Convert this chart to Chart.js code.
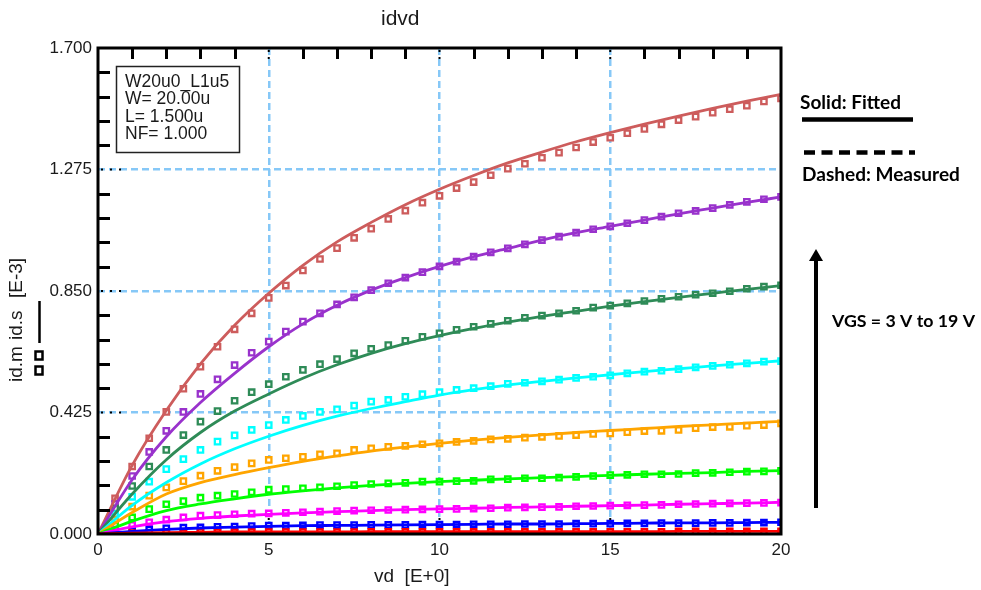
<!DOCTYPE html>
<html>
<head>
<meta charset="utf-8">
<title>idvd</title>
<script src="https://cdn.jsdelivr.net/npm/chart.js@4.4.1/dist/chart.umd.min.js"></script>
<style>
  html, body { margin: 0; padding: 0; background: #fff; }
  #wrap { width: 981px; height: 590px; position: relative; }
</style>
</head>
<body>
<div id="wrap"><canvas id="idvdChart"></canvas></div>
<script>
// drain voltage (V): measured every 0.5 V, fitted curve every 1 V
const vdMeasured = [0, 0.5, 1, 1.5, 2, 2.5, 3, 3.5, 4, 4.5, 5, 5.5, 6, 6.5, 7, 7.5, 8, 8.5, 9, 9.5, 10,
  10.5, 11, 11.5, 12, 12.5, 13, 13.5, 14, 14.5, 15, 15.5, 16, 16.5, 17, 17.5, 18, 18.5, 19, 19.5, 20];
const vdFitted = [0, 1, 2, 3, 4, 5, 6, 7, 8, 9, 10, 11, 12, 13, 14, 15, 16, 17, 18, 19, 20];

const xTicks = [0, 5, 10, 15, 20];
const yTicks = [0, 0.425, 0.85, 1.275, 1.7];

// drain current [E-3 A], one array per VGS
const meas3 = [0, 0.002, 0.003, 0.004, 0.005, 0.005, 0.006, 0.006, 0.006, 0.007, 0.007, 0.007, 0.007, 0.007, 0.007, 0.007,
  0.008, 0.008, 0.008, 0.008, 0.008, 0.008, 0.008, 0.008, 0.008, 0.008, 0.008, 0.008, 0.008, 0.008, 0.008, 0.008, 0.008, 0.008,
  0.009, 0.009, 0.009, 0.009, 0.009, 0.009, 0.009];
const meas5 = [0, 0.005, 0.010, 0.015, 0.020, 0.022, 0.023, 0.025, 0.026, 0.028, 0.029, 0.029, 0.030, 0.031, 0.031, 0.031,
  0.032, 0.032, 0.032, 0.033, 0.033, 0.033, 0.034, 0.034, 0.034, 0.035, 0.035, 0.035, 0.036, 0.036, 0.036, 0.037, 0.037,
  0.038, 0.038, 0.038, 0.039, 0.039, 0.040, 0.040, 0.041];
const meas7 = [0, 0.015, 0.031, 0.041, 0.050, 0.058, 0.064, 0.066, 0.069, 0.071, 0.072, 0.074, 0.076, 0.078, 0.080, 0.082,
  0.083, 0.084, 0.085, 0.086, 0.087, 0.088, 0.089, 0.090, 0.092, 0.093, 0.094, 0.095, 0.097, 0.098, 0.099, 0.100, 0.101,
  0.102, 0.104, 0.105, 0.106, 0.107, 0.108, 0.109, 0.110];
const meas9 = [0, 0.030, 0.058, 0.087, 0.104, 0.115, 0.127, 0.134, 0.140, 0.146, 0.155, 0.157, 0.160, 0.163, 0.167, 0.171,
  0.175, 0.177, 0.179, 0.183, 0.183, 0.185, 0.186, 0.191, 0.192, 0.195, 0.195, 0.197, 0.200, 0.203, 0.206, 0.207, 0.209,
  0.209, 0.210, 0.213, 0.214, 0.216, 0.218, 0.219, 0.221];
const meas11 = [0, 0.050, 0.096, 0.134, 0.163, 0.185, 0.204, 0.221, 0.234, 0.247, 0.259, 0.265, 0.270, 0.279, 0.282, 0.294,
  0.300, 0.305, 0.308, 0.314, 0.317, 0.322, 0.326, 0.331, 0.333, 0.337, 0.340, 0.343, 0.346, 0.350, 0.352, 0.356, 0.360,
  0.361, 0.364, 0.370, 0.374, 0.375, 0.379, 0.381, 0.387];
const meas13 = [0, 0.070, 0.130, 0.183, 0.227, 0.262, 0.294, 0.323, 0.345, 0.364, 0.381, 0.399, 0.413, 0.427, 0.436, 0.449,
  0.463, 0.469, 0.480, 0.489, 0.496, 0.504, 0.510, 0.517, 0.525, 0.529, 0.534, 0.540, 0.546, 0.550, 0.555, 0.562, 0.568,
  0.571, 0.577, 0.583, 0.588, 0.592, 0.597, 0.603, 0.605];
const meas15 = [0, 0.090, 0.168, 0.236, 0.294, 0.346, 0.393, 0.430, 0.466, 0.496, 0.524, 0.550, 0.574, 0.594, 0.612, 0.632,
  0.648, 0.661, 0.676, 0.690, 0.702, 0.714, 0.725, 0.735, 0.746, 0.756, 0.764, 0.772, 0.781, 0.792, 0.799, 0.807, 0.815,
  0.823, 0.830, 0.837, 0.842, 0.849, 0.858, 0.865, 0.870];
const meas17 = [0, 0.105, 0.203, 0.287, 0.361, 0.427, 0.490, 0.541, 0.591, 0.634, 0.673, 0.708, 0.743, 0.772, 0.803, 0.828,
  0.853, 0.877, 0.897, 0.916, 0.936, 0.953, 0.970, 0.985, 0.999, 1.013, 1.028, 1.040, 1.054, 1.066, 1.076, 1.087, 1.098,
  1.110, 1.122, 1.130, 1.140, 1.151, 1.162, 1.171, 1.179];
const meas19 = [0, 0.125, 0.236, 0.335, 0.427, 0.508, 0.585, 0.655, 0.716, 0.772, 0.826, 0.869, 0.922, 0.962, 1.000, 1.036,
  1.068, 1.102, 1.131, 1.159, 1.183, 1.210, 1.231, 1.255, 1.278, 1.295, 1.316, 1.334, 1.352, 1.371, 1.386, 1.402, 1.417,
  1.433, 1.448, 1.460, 1.474, 1.486, 1.498, 1.513, 1.524];

const fit3 = [0, 0.003, 0.005, 0.006, 0.007, 0.007, 0.007, 0.007, 0.008, 0.008, 0.008, 0.008, 0.008, 0.008, 0.008, 0.008, 0.008, 0.009, 0.009, 0.009, 0.009];
const fit5 = [0, 0.009, 0.016, 0.021, 0.024, 0.027, 0.029, 0.030, 0.031, 0.032, 0.033, 0.034, 0.035, 0.035, 0.036, 0.037, 0.038, 0.039, 0.039, 0.040, 0.041];
const fit7 = [0, 0.025, 0.043, 0.055, 0.063, 0.069, 0.074, 0.078, 0.082, 0.085, 0.088, 0.090, 0.093, 0.095, 0.097, 0.099, 0.101, 0.104, 0.106, 0.108, 0.111];
const fit9 = [0, 0.045, 0.082, 0.105, 0.123, 0.139, 0.151, 0.161, 0.170, 0.177, 0.183, 0.188, 0.193, 0.197, 0.201, 0.205, 0.209, 0.212, 0.215, 0.219, 0.222];
const fit11 = [0, 0.075, 0.140, 0.180, 0.208, 0.232, 0.254, 0.273, 0.290, 0.304, 0.317, 0.328, 0.338, 0.347, 0.355, 0.362, 0.369, 0.376, 0.382, 0.388, 0.394];
const fit13 = [0, 0.100, 0.180, 0.245, 0.298, 0.342, 0.380, 0.412, 0.439, 0.463, 0.486, 0.505, 0.521, 0.534, 0.546, 0.557, 0.568, 0.578, 0.588, 0.597, 0.606];
const fit15 = [0, 0.140, 0.260, 0.355, 0.430, 0.490, 0.545, 0.592, 0.632, 0.666, 0.694, 0.719, 0.741, 0.761, 0.779, 0.797, 0.813, 0.828, 0.842, 0.856, 0.869];
const fit17 = [0, 0.190, 0.340, 0.460, 0.562, 0.655, 0.735, 0.800, 0.853, 0.897, 0.936, 0.970, 0.999, 1.028, 1.054, 1.076, 1.098, 1.120, 1.140, 1.160, 1.179];
const fit19 = [0, 0.240, 0.432, 0.595, 0.730, 0.842, 0.940, 1.022, 1.090, 1.152, 1.206, 1.254, 1.298, 1.336, 1.372, 1.404, 1.434, 1.462, 1.489, 1.514, 1.538];

const vgsNames = ['VGS=3', 'VGS=5', 'VGS=7', 'VGS=9', 'VGS=11', 'VGS=13', 'VGS=15', 'VGS=17', 'VGS=19'];
const measured = [meas3, meas5, meas7, meas9, meas11, meas13, meas15, meas17, meas19];
const fitted = [fit3, fit5, fit7, fit9, fit11, fit13, fit15, fit17, fit19];
const colors = ['#ff0000', '#0000ff', '#ff00ff', '#00ff00', '#ffa500', '#00ffff', '#2e8b57', '#9932cc', '#cd5c5c'];

const FONT = "'Liberation Sans', Arial, sans-serif";
const GRID_BLUE = '#86c8f7';

const datasets = [];
vgsNames.forEach((name, i) => {
  datasets.push({
    label: name + ' fitted',
    data: vdFitted.map((x, k) => ({ x: x, y: fitted[i][k] })),
    borderColor: colors[i],
    borderWidth: 2.8,
    pointRadius: 0,
    cubicInterpolationMode: 'monotone',
    order: 0
  });
  datasets.push({
    label: name + ' measured',
    data: vdMeasured.map((x, k) => ({ x: x, y: measured[i][k] })),
    showLine: false,
    pointStyle: 'rect',
    pointRadius: 3.8,
    pointBorderWidth: 2.3,
    pointBackgroundColor: '#ffffff',
    borderColor: colors[i],
    order: 1
  });
});

function fitFont(ctx, text, width, weight, family) {
  ctx.font = weight + ' 100px ' + family;
  const size = 100 * width / ctx.measureText(text).width;
  return weight + ' ' + size.toFixed(2) + 'px ' + family;
}

// frame, minor ticks, titles, info box and the notes on the right
const decorations = {
  id: 'decorations',
  afterDraw(chart) {
    const { ctx, chartArea: a, scales: { x, y } } = chart;
    ctx.save();

    // minor ticks: left every 0.085, top every 1 V
    ctx.strokeStyle = '#000';
    ctx.lineWidth = 3;
    ctx.beginPath();
    for (let k = 1; k < 20; k++) {
      if (k % 5 === 0) continue;
      const py = Math.round(y.getPixelForValue(k * 0.085)) + 0.5;
      ctx.moveTo(a.left, py); ctx.lineTo(a.left + 12, py);
      const px = Math.round(x.getPixelForValue(k)) + 0.5;
      ctx.moveTo(px, a.top); ctx.lineTo(px, a.top + 11);
    }
    ctx.stroke();

    // black dots where the grid lines start
    ctx.fillStyle = '#000';
    [0.425, 0.85, 1.275].forEach(v => {
      const py = y.getPixelForValue(v);
      for (let d = 0; d < 3; d++) ctx.fillRect(a.left + 3 + d * 9, py - 1, 2, 2);
    });
    [5, 10, 15].forEach(v => {
      const px = x.getPixelForValue(v);
      ctx.fillRect(px - 1, a.top + 2, 2, 2);
      ctx.fillRect(px - 1, a.top + 9, 2, 2);
      ctx.fillRect(px - 1, a.bottom - 16, 2, 2);
    });

    // plot frame
    ctx.lineWidth = 3;
    ctx.strokeStyle = '#000';
    ctx.strokeRect(a.left, a.top, a.right - a.left, a.bottom - a.top);

    // title
    ctx.fillStyle = '#1a1a1a';
    ctx.font = '21px ' + FONT;
    ctx.textAlign = 'left';
    ctx.textBaseline = 'alphabetic';
    ctx.fillText('idvd', 381, 25);

    // x axis title
    ctx.font = '19px ' + FONT;
    ctx.textBaseline = 'middle';
    ctx.fillText('vd  [E+0]', 374, 577);

    // y axis title, rotated, with its symbols
    [['id.m', 382], ['id.s', 340], ['[E-3]', 298]].forEach(([t, py]) => {
      ctx.save();
      ctx.translate(17, py);
      ctx.rotate(-Math.PI / 2);
      ctx.textAlign = 'left';
      ctx.textBaseline = 'middle';
      ctx.fillText(t, 0, 0);
      ctx.restore();
    });
    ctx.lineWidth = 2.5;
    ctx.strokeRect(35.5, 351.5, 7, 8);
    ctx.strokeRect(35.5, 366.5, 7, 8);
    ctx.beginPath();
    ctx.moveTo(39.5, 301); ctx.lineTo(39.5, 343);
    ctx.stroke();

    // device info box
    ctx.lineWidth = 1.5;
    ctx.strokeStyle = '#222';
    ctx.fillStyle = '#fff';
    ctx.fillRect(116, 66, 123, 87);
    ctx.strokeRect(116.5, 66.5, 123, 86);
    ctx.fillStyle = '#1a1a1a';
    ctx.font = '17.5px ' + FONT;
    ctx.textBaseline = 'middle';
    ['W20u0_L1u5', 'W= 20.00u', 'L= 1.500u', 'NF= 1.000'].forEach((t, i) => {
      ctx.fillText(t, 125, 82 + i * 17.5);
    });

    // right side notes
    const noteFamily = "Lato, 'Open Sans', sans-serif";
    ctx.fillStyle = '#000';
    ctx.font = fitFont(ctx, 'Solid: Fitted', 101, 'bold', noteFamily);
    ctx.fillText('Solid: Fitted', 800, 103);
    ctx.strokeStyle = '#000';
    ctx.lineWidth = 4.5;
    ctx.beginPath();
    ctx.moveTo(802, 119.5); ctx.lineTo(913, 119.5);
    ctx.stroke();
    ctx.setLineDash([11, 6.5]);
    ctx.beginPath();
    ctx.moveTo(804, 152.5); ctx.lineTo(915, 152.5);
    ctx.stroke();
    ctx.setLineDash([]);
    ctx.font = fitFont(ctx, 'Dashed: Measured', 158, 'bold', noteFamily);
    ctx.fillText('Dashed: Measured', 802, 175);

    // VGS arrow
    ctx.lineWidth = 4;
    ctx.beginPath();
    ctx.moveTo(816, 508); ctx.lineTo(816, 258);
    ctx.stroke();
    ctx.beginPath();
    ctx.moveTo(816, 249); ctx.lineTo(809, 261); ctx.lineTo(823, 261);
    ctx.closePath();
    ctx.fill();
    ctx.font = fitFont(ctx, 'VGS = 3 V to 19 V', 143, 'bold', noteFamily);
    ctx.fillText('VGS = 3 V to 19 V', 832, 321);

    ctx.restore();
  }
};

const innerGrid = c => (c.index === 0 || c.index === 4) ? 'rgba(0,0,0,0)' : GRID_BLUE;

new Chart(document.getElementById('idvdChart'), {
  type: 'line',
  data: { datasets: datasets },
  options: {
    responsive: true,
    maintainAspectRatio: false,
    animation: false,
    layout: { padding: { left: 0, right: 200, top: 48, bottom: 0 } },
    plugins: {
      legend: { display: false },
      tooltip: { enabled: false },
      title: { display: false }
    },
    scales: {
      x: {
        type: 'linear',
        min: 0,
        max: 20,
        afterBuildTicks: s => { s.ticks = xTicks.map(v => ({ value: v })); },
        afterFit: s => { s.height = 56; },
        ticks: { padding: 6, color: '#1a1a1a', maxRotation: 0, font: { family: FONT, size: 17 } },
        grid: { color: innerGrid, lineWidth: 2.5, drawTicks: false },
        border: { display: false, dash: [7, 4] }
      },
      y: {
        type: 'linear',
        min: 0,
        max: 1.7,
        afterBuildTicks: s => { s.ticks = yTicks.map(v => ({ value: v })); },
        afterFit: s => { s.width = 98; },
        ticks: {
          padding: 6,
          color: '#1a1a1a',
          font: { family: FONT, size: 17 },
          callback: v => Number(v).toFixed(3)
        },
        grid: { color: innerGrid, lineWidth: 2.5, drawTicks: false },
        border: { display: false, dash: [7, 4] }
      }
    }
  },
  plugins: [decorations]
});
</script>
</body>
</html>
